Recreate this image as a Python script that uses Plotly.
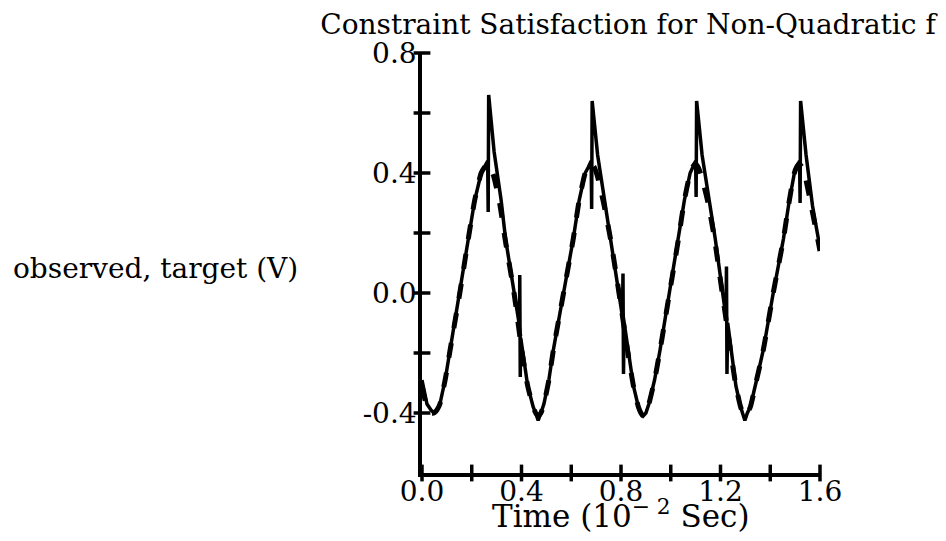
import plotly.graph_objects as go

# ---------------- data ----------------
target_t = [0.000, 0.020, 0.036, 0.048, 0.060, 0.072, 0.093, 0.113, 0.152, 0.186, 0.212, 0.238, 0.252, 0.262, 0.274,
            0.288, 0.312, 0.334, 0.370, 0.401, 0.425, 0.447, 0.457, 0.467, 0.478,
            0.490, 0.510, 0.528, 0.569, 0.608, 0.632, 0.656, 0.669, 0.680, 0.692,
            0.705, 0.730, 0.758, 0.792, 0.826, 0.850, 0.870, 0.880, 0.889, 0.900,
            0.912, 0.935, 0.957, 0.995, 1.031, 1.055, 1.078, 1.088, 1.098, 1.110,
            1.123, 1.150, 1.176, 1.207, 1.240, 1.262, 1.281, 1.290, 1.298, 1.308,
            1.320, 1.345, 1.372, 1.412, 1.453, 1.475, 1.497, 1.506, 1.516, 1.528,
            1.540, 1.565, 1.600]
target_v = [-0.31, -0.38, -0.40, -0.40, -0.39, -0.37, -0.29, -0.19, 0.00, 0.18, 0.31, 0.40, 0.42, 0.43, 0.42,
            0.39, 0.30, 0.18, 0.00, -0.19, -0.31, -0.38, -0.40, -0.41, -0.40,
            -0.37, -0.29, -0.19, 0.00, 0.18, 0.31, 0.40, 0.42, 0.43, 0.42,
            0.39, 0.30, 0.18, 0.00, -0.19, -0.31, -0.38, -0.40, -0.41, -0.40,
            -0.37, -0.29, -0.19, 0.00, 0.18, 0.31, 0.40, 0.42, 0.43, 0.42,
            0.39, 0.30, 0.18, 0.00, -0.19, -0.31, -0.38, -0.40, -0.41, -0.40,
            -0.38, -0.29, -0.19, 0.00, 0.18, 0.30, 0.40, 0.42, 0.43, 0.42,
            0.39, 0.29, 0.14]

observed_t = [0.000, 0.020, 0.036, 0.048, 0.060, 0.072, 0.093, 0.113, 0.152, 0.186, 0.212, 0.238, 0.252,
              0.264, 0.266, 0.268, 0.290, 0.318, 0.336, 0.370, 0.392, 0.393, 0.395, 0.397,
              0.425, 0.447, 0.457, 0.467, 0.478,
              0.490, 0.510, 0.528, 0.569, 0.608, 0.632, 0.656, 0.669,
              0.680, 0.682, 0.684, 0.706, 0.734, 0.760, 0.792, 0.806, 0.808, 0.810, 0.813,
              0.850, 0.870, 0.880, 0.889, 0.900,
              0.912, 0.935, 0.957, 0.995, 1.031, 1.055, 1.078, 1.088,
              1.100, 1.102, 1.104, 1.126, 1.154, 1.179, 1.207, 1.222, 1.224, 1.226, 1.229,
              1.262, 1.281, 1.290, 1.298, 1.308,
              1.320, 1.345, 1.372, 1.412, 1.453, 1.475, 1.497, 1.506,
              1.518, 1.520, 1.522, 1.544, 1.570, 1.600]
observed_v = [-0.29, -0.37, -0.39, -0.40, -0.39, -0.37, -0.29, -0.19, 0.00, 0.18, 0.31, 0.40, 0.42,
              0.44, 0.27, 0.66, 0.47, 0.31, 0.18, 0.01, -0.11, 0.06, -0.28, -0.15,
              -0.31, -0.38, -0.40, -0.425, -0.40,
              -0.37, -0.29, -0.19, 0.00, 0.18, 0.31, 0.40, 0.42,
              0.44, 0.28, 0.64, 0.46, 0.31, 0.18, 0.01, -0.08, 0.065, -0.27, -0.10,
              -0.31, -0.38, -0.40, -0.41, -0.40,
              -0.37, -0.29, -0.19, 0.00, 0.18, 0.31, 0.40, 0.42,
              0.44, 0.32, 0.64, 0.46, 0.31, 0.18, 0.01, -0.08, 0.088, -0.27, -0.10,
              -0.31, -0.38, -0.40, -0.425, -0.40,
              -0.38, -0.29, -0.19, 0.00, 0.18, 0.30, 0.40, 0.42,
              0.44, 0.30, 0.64, 0.46, 0.29, 0.15]

x_tick_vals = [0.0, 0.4, 0.8, 1.2, 1.6]
x_tick_text = ["0.0", "0.4", "0.8", "1.2", "1.6"]
x_minor_vals = [0.0, 0.2, 0.4, 0.6, 0.8, 1.0, 1.2, 1.4, 1.6]
y_tick_vals = [-0.4, 0.0, 0.4, 0.8]
y_tick_text = ["-0.4", "0.0", "0.4", "0.8"]
y_minor_vals = [-0.4, -0.2, 0.0, 0.2, 0.4, 0.6, 0.8]

FONT = "DejaVu Serif"
FS = 28
# the page body adds an 8px offset; figure coordinates are page coordinates minus 8
OFF = 8
PLOT_L, PLOT_R, PLOT_T, PLOT_B = 422 - OFF, 820 - OFF, 53 - OFF, 473 - OFF
W, H = 946, 541
PH = PLOT_B - PLOT_T
PW = PLOT_R - PLOT_L

fig = go.Figure()

fig.add_trace(go.Scatter(x=target_t, y=target_v, mode="lines", name="target",
                         line=dict(color="black", width=5, dash="dash", shape="spline", smoothing=0.6),
                         showlegend=False))
fig.add_trace(go.Scatter(x=observed_t, y=observed_v, mode="lines", name="observed",
                         line=dict(color="black", width=3.5), showlegend=False))

# crossing tick marks
fig.add_trace(go.Scatter(x=[0.0] * len(y_minor_vals), y=y_minor_vals, mode="markers",
                         marker=dict(symbol="line-ew", size=12, line=dict(color="black", width=3.5)),
                         cliponaxis=False, showlegend=False, hoverinfo="skip"))
fig.add_trace(go.Scatter(x=x_minor_vals, y=[-0.6] * len(x_minor_vals), mode="markers",
                         marker=dict(symbol="line-ns", size=12, line=dict(color="black", width=3.5)),
                         cliponaxis=False, showlegend=False, hoverinfo="skip"))

fig.update_layout(
    width=W, height=H,
    margin=dict(l=PLOT_L, r=W - PLOT_R, t=PLOT_T, b=H - PLOT_B, autoexpand=False),
    paper_bgcolor="white", plot_bgcolor="white",
    font=dict(family=FONT, color="black", size=FS),
    title=dict(text="Constraint Satisfaction for Non-Quadratic f",
               x=(628 - OFF) / W, xref="container", xanchor="center",
               y=1 - (24 - OFF) / H, yref="container", yanchor="middle",
               font=dict(family=FONT, size=FS, color="black")),
    xaxis=dict(range=[0, 1.6], showgrid=False, zeroline=False, automargin=False,
               showline=True, linecolor="black", linewidth=3.5,
               tickvals=x_tick_vals, ticktext=x_tick_text, ticks="",
               ticklabelstandoff=-9,
               tickfont=dict(family=FONT, size=FS)),
    yaxis=dict(range=[-0.6, 0.8], showgrid=False, zeroline=False, automargin=False,
               showline=True, linecolor="black", linewidth=3.5,
               tickvals=y_tick_vals, ticktext=y_tick_text, ticks="",
               ticklabelstandoff=-4,
               tickfont=dict(family=FONT, size=FS)),
    annotations=[
        dict(text="observed, target (V)", xref="paper", yref="paper",
             x=(300 - 422) / PW, y=(473 - 268) / PH,
             xanchor="right", yanchor="middle", showarrow=False,
             font=dict(family=FONT, size=FS, color="black")),
        dict(text="Time (10<sup>\u2212 2</sup> Sec)", xref="paper", yref="paper",
             x=(621 - 422) / PW, y=-(536 - 473) / PH,
             xanchor="center", yanchor="bottom", showarrow=False,
             font=dict(family=FONT, size=31, color="black")),
    ],
)

fig.write_html("out.html")
